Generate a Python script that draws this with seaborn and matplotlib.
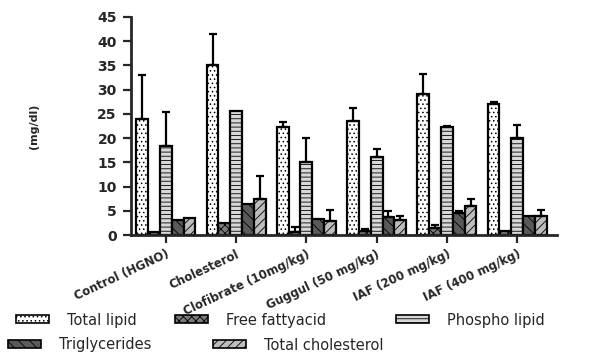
import matplotlib
matplotlib.use("Agg")
import matplotlib.pyplot as plt
import seaborn as sns
import pandas as pd
import numpy as np

groups = ["Control (HGNO)", "Cholesterol", "Clofibrate (10mg/kg)", "Guggul (50 mg/kg)",
          "IAF (200 mg/kg)", "IAF (400 mg/kg)"]
series = ["Total lipid", "Free fattyacid", "Phospho lipid", "Triglycerides", "Total cholesterol"]

total_lipid = [24.0, 35.0, 22.2, 23.6, 29.0, 27.1]
total_lipid_err = [9.0, 6.4, 1.1, 2.6, 4.3, 0.3]
free_fatty = [0.7, 2.5, 0.7, 0.9, 1.4, 0.9]
free_fatty_err = [0.0, 0.0, 0.9, 0.4, 0.7, 0.0]
phospho = [18.3, 25.5, 15.0, 16.1, 22.2, 20.0]
phospho_err = [7.1, 0.0, 5.0, 1.6, 0.4, 2.7]
triglycerides = [3.2, 6.5, 3.4, 3.8, 4.5, 3.9]
triglycerides_err = [0.0, 0.0, 0.0, 1.1, 0.4, 0.0]
total_chol = [3.6, 7.5, 3.0, 3.1, 6.0, 3.9]
total_chol_err = [0.0, 4.7, 2.2, 0.8, 1.4, 1.3]

vals = [total_lipid, free_fatty, phospho, triglycerides, total_chol]
errs = [total_lipid_err, free_fatty_err, phospho_err, triglycerides_err, total_chol_err]

rows = []
for s, v, e in zip(series, vals, errs):
    for g, vv, ee in zip(groups, v, e):
        rows.append({"group": g, "series": s, "value": vv, "err": ee})
df = pd.DataFrame(rows)

sns.set_theme(style="ticks")
plt.rcParams["font.family"] = ["DejaVu Sans"]
plt.rcParams["hatch.linewidth"] = 0.6

fig = plt.figure(figsize=(5.89, 3.52), dpi=100)
ax = fig.add_axes([0.222, 0.332, 0.724, 0.62])

faces = ["white", "#7a7a7a", "#d8d8d8", "#5a5a5a", "#bdbdbd"]
hatches = ["....", "xxxx", "----", "\\\\\\", "////"]

sns.barplot(data=df, x="group", y="value", hue="series", order=groups, hue_order=series,
            palette=faces, width=0.84, errorbar=None, ax=ax, edgecolor="black",
            linewidth=1.6, saturation=1)

conts = list(ax.containers)
for i, cont in enumerate(conts):
    for j, bar in enumerate(cont.patches):
        bar.set_hatch(hatches[i])
        e = errs[i][j]
        if e > 0:
            xc = bar.get_x() + bar.get_width() / 2
            top = bar.get_height()
            ax.errorbar(xc, top, yerr=[[0], [e]], fmt="none", ecolor="black",
                        elinewidth=1.6, capsize=3, capthick=1.6)

ax.set_ylim(0, 45)
ax.set_yticks(range(0, 46, 5))
ax.set_xlim(-0.5, 5.57)
ax.set_xlabel("")
ax.set_ylabel("(mg/dl)", fontsize=8, fontweight="bold")
ax.yaxis.set_label_coords(-0.215, 0.5)
for s in ["top", "right"]:
    ax.spines[s].set_visible(False)
for s in ["left", "bottom"]:
    ax.spines[s].set_linewidth(2)
ax.tick_params(axis="both", width=1.6, length=6)
ax.tick_params(axis="y", pad=4, labelsize=10)
ax.tick_params(axis="x", pad=3)
for lab in ax.get_yticklabels():
    lab.set_fontweight("bold")
ax.set_xticks(range(len(groups)))
ax.set_xticklabels(groups, rotation=25, ha="right", rotation_mode="anchor",
                   fontsize=8.5, fontweight="bold")

handles, labels = ax.get_legend_handles_labels()
if ax.get_legend() is not None:
    ax.get_legend().remove()
for h, hp in zip(handles, hatches):
    h.set_hatch(hp)
    h.set_edgecolor("black")
    h.set_linewidth(1.2)

W, H = 589.0, 352.0
leg_pos = [(16, 320), (175, 320), (396, 320), (8, 345), (213, 345)]
kw = dict(loc="center left", frameon=False, fontsize=10.5, handlelength=2.26,
          handleheight=0.45, handletextpad=1.23, borderaxespad=0.0, borderpad=0.0)
for h, l, (px, py) in zip(handles, labels, leg_pos):
    lg = fig.legend([h], [l], bbox_to_anchor=(px / W, 1 - py / H), **kw)

fig.savefig("out.png", dpi=100)
